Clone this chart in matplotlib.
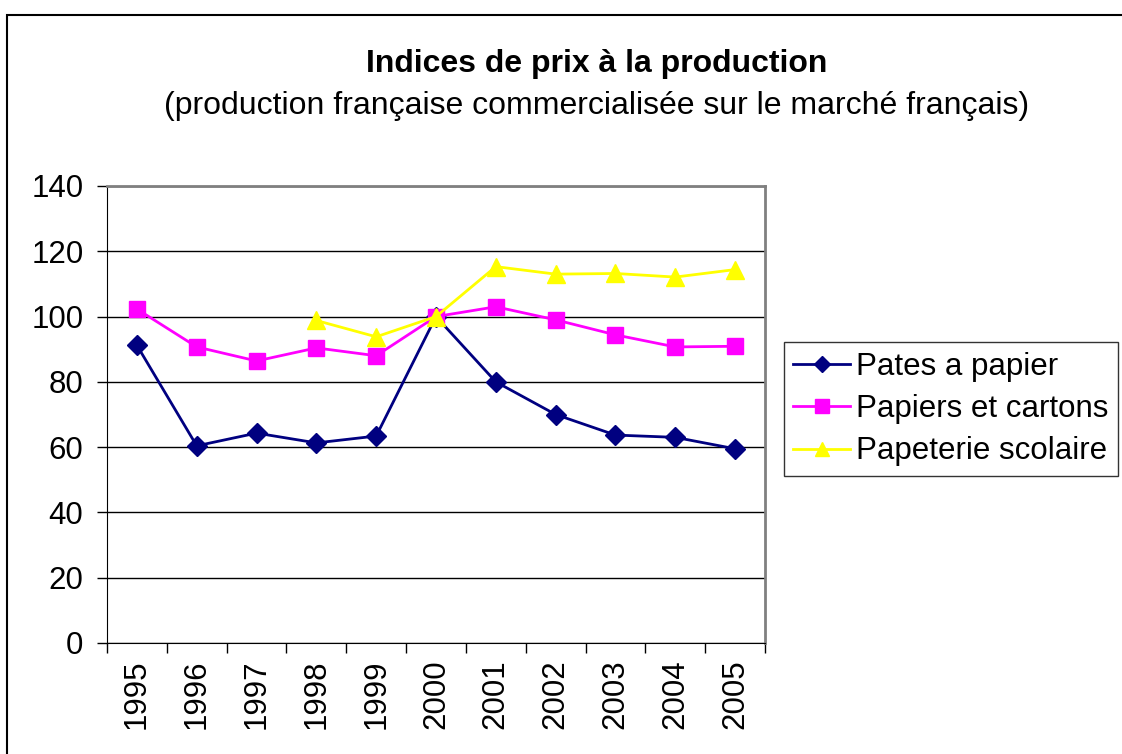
import numpy as np
import matplotlib
matplotlib.use("Agg")
from matplotlib import pyplot as plt
from matplotlib.patches import Rectangle

plt.rcParams['font.family'] = ['Liberation Sans', 'DejaVu Sans']

years = ['1995', '1996', '1997', '1998', '1999', '2000',
         '2001', '2002', '2003', '2004', '2005']
pates = [91.2, 60.4, 64.3, 61.3, 63.4, 100.0, 80.0, 70.0, 63.7, 63.0, 59.5]
papiers = [102.3, 90.7, 86.4, 90.4, 88.0, 100.0, 103.0, 99.0, 94.4, 90.7, 90.9]
papeterie = [np.nan, np.nan, np.nan, 98.8, 93.8, 100.0, 115.3, 113.0, 113.2, 112.1, 114.4]

fig = plt.figure(figsize=(11.22, 7.54), dpi=100)
fig.patches.append(Rectangle((7 / 1122, -0.1), 1.2, 0.1 + 1 - 15 / 754,
                             transform=fig.transFigure, fill=False,
                             edgecolor='black', linewidth=1.5))

ax = fig.add_axes([107 / 1122, 1 - 643 / 754, 658 / 1122, 457 / 754])
x = np.arange(len(years))

ax.plot(x, pates, color='#000080', marker='D', markersize=10, linewidth=2,
        label='Pates a papier')
ax.plot(x, papiers, color='#FF00FF', marker='s', markersize=12, linewidth=2,
        label='Papiers et cartons')
ax.plot(x, papeterie, color='#FFFF00', marker='^', markersize=13, linewidth=2,
        label='Papeterie scolaire')

ax.set_xlim(-0.5, len(years) - 0.5)
ax.set_ylim(0, 140)
ax.set_yticks(np.arange(0, 141, 20))
ax.set_xticks(x)
ax.set_xticklabels(years, rotation=90)
ax.set_xticks(np.arange(-0.5, len(years), 1), minor=True)
ax.tick_params(axis='x', which='major', length=0, pad=12, labelsize=22.5)
ax.tick_params(axis='x', which='minor', length=7, width=1, color='black')
ax.tick_params(axis='y', length=7, width=1, labelsize=22.5, pad=10)
ax.yaxis.grid(True, color='black', linewidth=1)
ax.set_axisbelow(True)

ax.spines['left'].set_color('black')
ax.spines['bottom'].set_color('black')
ax.spines['top'].set_color('#808080')
ax.spines['right'].set_color('#808080')
ax.spines['top'].set_linewidth(2)
ax.spines['right'].set_linewidth(2)

fig.text(0.532, 1 - 64 / 754, 'Indices de prix à la production',
         ha='center', va='center', fontsize=23, fontweight='bold')
fig.text(0.532, 1 - 106 / 754,
         '(production française commercialisée sur le marché français)',
         ha='center', va='center', fontsize=23)

leg = ax.legend(loc='center left', bbox_to_anchor=(784 / 1122, 1 - 409 / 754),
                bbox_transform=fig.transFigure, fontsize=22.5, frameon=True,
                fancybox=False, edgecolor='black', handlelength=1.8,
                borderpad=0.3, labelspacing=0.4, handletextpad=0.2,
                borderaxespad=0, markerscale=0.8)
leg.get_frame().set_linewidth(1)

fig.savefig('out.png', dpi=100)
